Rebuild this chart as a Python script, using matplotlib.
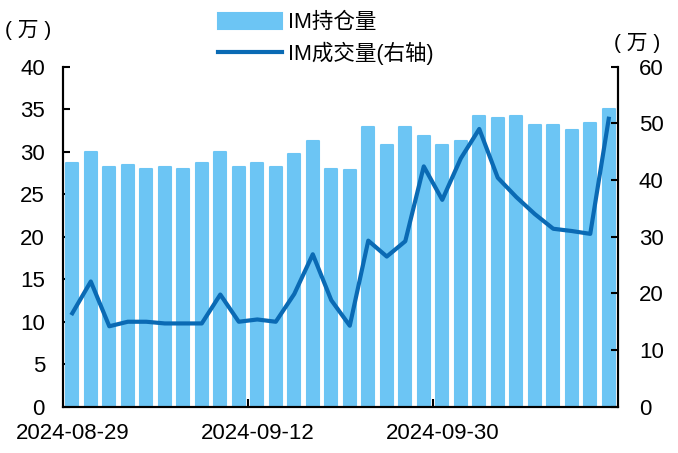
import matplotlib.pyplot as plt
import numpy as np
from matplotlib.patches import Patch
from matplotlib.lines import Line2D

plt.rcParams['font.family'] = ['Liberation Sans', 'Noto Sans CJK SC', 'DejaVu Sans']

# trading days 2024-08-29 .. 2024-10-18
dates = ['2024-08-29', '2024-08-30', '2024-09-02', '2024-09-03', '2024-09-04',
         '2024-09-05', '2024-09-06', '2024-09-09', '2024-09-10', '2024-09-11',
         '2024-09-12', '2024-09-13', '2024-09-18', '2024-09-19', '2024-09-20',
         '2024-09-23', '2024-09-24', '2024-09-25', '2024-09-26', '2024-09-27',
         '2024-09-30', '2024-10-08', '2024-10-09', '2024-10-10', '2024-10-11',
         '2024-10-14', '2024-10-15', '2024-10-16', '2024-10-17', '2024-10-18']

# 持仓量 (万, left axis)
oi = [28.7, 30.0, 28.2, 28.45, 27.95, 28.2, 27.95, 28.7, 30.0, 28.2,
      28.7, 28.2, 29.7, 31.3, 27.95, 27.9, 32.9, 30.8, 32.9, 31.8,
      30.8, 31.3, 34.2, 33.9, 34.2, 33.1, 33.1, 32.6, 33.4, 35.0]

# 成交量 (万, right axis)
vol = [16.5, 22.1, 14.2, 15.0, 15.0, 14.7, 14.7, 14.7, 19.8, 15.0,
       15.4, 15.0, 19.9, 26.9, 18.8, 14.3, 29.3, 26.5, 29.2, 42.4,
       36.5, 43.8, 49.0, 40.4, 37.0, 34.0, 31.4, 31.0, 30.5, 50.8]

bar_color = '#6CC5F4'
line_color = '#0A6AB4'
fs = 16

x = np.arange(len(dates))

fig = plt.figure(figsize=(6.78, 4.53), dpi=100)
ax = fig.add_axes([0.093, 0.102, 0.8185, 0.751])
ax2 = ax.twinx()

# slightly rounded bar corners via a thin edge with round joins
ax.bar(x, oi, width=0.64, color=bar_color, edgecolor=bar_color,
       linewidth=1.5, joinstyle='round', zorder=2)
ax2.plot(x, vol, color=line_color, lw=3, zorder=3)

ax.set_xlim(-0.5, len(dates) - 0.5)
ax.set_ylim(0, 40)
ax.set_yticks(np.arange(0, 41, 5))
ax2.set_ylim(0, 60)
ax2.set_yticks(np.arange(0, 61, 10))

ax.set_xticks([0, 10, 20], [dates[0], dates[10], dates[20]])
ax.set_xticks([9.5, 19.5], minor=True)
ax.tick_params(axis='x', which='major', length=0, labelsize=fs, pad=12)
ax.tick_params(axis='x', which='minor', direction='in', length=6, width=1.5)
ax.tick_params(axis='y', direction='in', length=5, width=1.5, labelsize=fs, pad=13)
ax2.tick_params(axis='y', direction='in', length=5, width=1.5, labelsize=fs, pad=15)

for a in (ax, ax2):
    a.spines['top'].set_visible(False)
    for s in ('left', 'right', 'bottom'):
        a.spines[s].set_linewidth(1.5)

fig.text(0.008, 0.934, '( 万 )', fontsize=15, ha='left', va='center')
fig.text(0.906, 0.905, '( 万 )', fontsize=15, ha='left', va='center')

handles = [Patch(facecolor=bar_color, edgecolor=bar_color, lw=1.5, joinstyle='round'),
           Line2D([], [], color=line_color, lw=3)]
fig.legend(handles, ['IM持仓量', 'IM成交量(右轴)'], loc='upper left',
           bbox_to_anchor=(0.321, 0.973), frameon=False, fontsize=15.5,
           handlelength=3.0, handleheight=0.75, handletextpad=0.25,
           labelspacing=0.4, borderpad=0, borderaxespad=0)

fig.savefig('out.png', dpi=100)
